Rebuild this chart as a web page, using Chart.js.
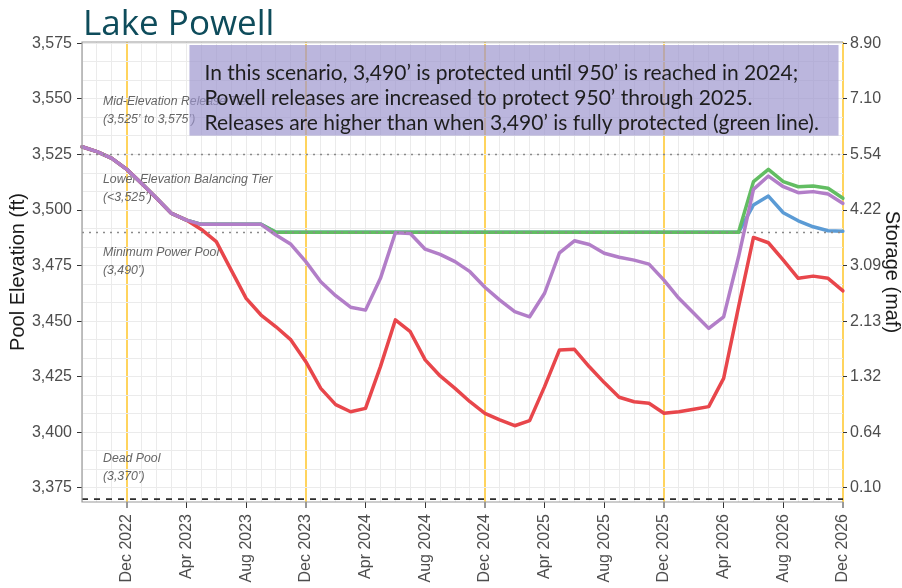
<!DOCTYPE html>
<html>
<head>
<meta charset="utf-8">
<title>Lake Powell</title>
<script src="https://cdn.jsdelivr.net/npm/chart.js@4.4.1/dist/chart.umd.min.js"></script>
<style>
	html, body { margin: 0; padding: 0; background: #fff; }
	#wrap { width: 902px; height: 588px; }
</style>
</head>
<body>
<div id="wrap"><canvas id="powellChart" width="902" height="588"></canvas></div>
<script>
// Months on the x axis (Sep 2022 - Dec 2026)
const months = [
	"Sep 2022", "Oct 2022", "Nov 2022", "Dec 2022",
	"Jan 2023", "Feb 2023", "Mar 2023", "Apr 2023", "May 2023", "Jun 2023", "Jul 2023", "Aug 2023", "Sep 2023", "Oct 2023", "Nov 2023", "Dec 2023",
	"Jan 2024", "Feb 2024", "Mar 2024", "Apr 2024", "May 2024", "Jun 2024", "Jul 2024", "Aug 2024", "Sep 2024", "Oct 2024", "Nov 2024", "Dec 2024",
	"Jan 2025", "Feb 2025", "Mar 2025", "Apr 2025", "May 2025", "Jun 2025", "Jul 2025", "Aug 2025", "Sep 2025", "Oct 2025", "Nov 2025", "Dec 2025",
	"Jan 2026", "Feb 2026", "Mar 2026", "Apr 2026", "May 2026", "Jun 2026", "Jul 2026", "Aug 2026", "Sep 2026", "Oct 2026", "Nov 2026", "Dec 2026"
];

// Tick labels: left axis elevation (ft), right axis storage (maf)
const elevationTicks = [3375, 3400, 3425, 3450, 3475, 3500, 3525, 3550, 3575];
const storageTicks = ["0.10", "0.64", "1.32", "2.13", "3.09", "4.22", "5.54", "7.10", "8.90"];

// Pool elevation (ft) per month
const scenarioElev = [ // purple: 3,490' protected until 950' reached
	3528.5, 3526.3, 3523.3, 3518.3, 3512.0, 3505.3, 3498.5, 3495.5, 3493.6, 3493.6, 3493.6, 3493.6, 3493.6,
	3488.8, 3484.6, 3476.8, 3467.8, 3461.5, 3456.3, 3455.0, 3469.3, 3489.8, 3489.5, 3482.4, 3480.1, 3476.8,
	3472.3, 3465.3, 3459.5, 3454.3, 3452.0, 3462.6, 3480.8, 3486.2, 3484.5, 3480.6, 3478.8, 3477.5, 3475.7,
	3468.5, 3460.3, 3453.6, 3446.8, 3452.0, 3479.0, 3509.3, 3515.3, 3510.5, 3507.8, 3508.3, 3507.2, 3503.0
];
const unprotectedElev = [ // red
	3528.5, 3526.3, 3523.3, 3518.3, 3512.0, 3505.3, 3498.5, 3495.5, 3491.3, 3485.8, 3473.0, 3460.3, 3452.8,
	3447.5, 3441.6, 3431.8, 3419.8, 3412.5, 3409.3, 3410.8, 3429.6, 3450.6, 3445.3, 3432.6, 3425.4, 3419.8,
	3413.8, 3408.6, 3405.6, 3403.0, 3405.3, 3420.6, 3437.1, 3437.4, 3429.5, 3422.4, 3415.8, 3413.8, 3413.1,
	3408.6, 3409.3, 3410.4, 3411.6, 3424.3, 3456.5, 3487.7, 3485.3, 3477.5, 3469.3, 3470.3, 3469.3, 3463.7
];
const protectedElev = [ // green: 3,490' fully protected
	3528.5, 3526.3, 3523.3, 3518.3, 3512.0, 3505.3, 3498.5, 3495.5, 3493.6, 3493.6, 3493.6, 3493.6, 3493.6,
	3490.0, 3490.0, 3490.0, 3490.0, 3490.0, 3490.0, 3490.0, 3490.0, 3490.0, 3490.0, 3490.0, 3490.0, 3490.0,
	3490.0, 3490.0, 3490.0, 3490.0, 3490.0, 3490.0, 3490.0, 3490.0, 3490.0, 3490.0, 3490.0, 3490.0, 3490.0,
	3490.0, 3490.0, 3490.0, 3490.0, 3490.0, 3490.0, 3512.8, 3518.3, 3512.8, 3510.5, 3510.8, 3509.8, 3505.3
];
const blueElev = [ // blue
	3528.5, 3526.3, 3523.3, 3518.3, 3512.0, 3505.3, 3498.5, 3495.5, 3493.6, 3493.6, 3493.6, 3493.6, 3493.6,
	3490.0, 3490.0, 3490.0, 3490.0, 3490.0, 3490.0, 3490.0, 3490.0, 3490.0, 3490.0, 3490.0, 3490.0, 3490.0,
	3490.0, 3490.0, 3490.0, 3490.0, 3490.0, 3490.0, 3490.0, 3490.0, 3490.0, 3490.0, 3490.0, 3490.0, 3490.0,
	3490.0, 3490.0, 3490.0, 3490.0, 3490.0, 3490.0, 3502.3, 3506.3, 3498.8, 3495.2, 3492.5, 3490.7, 3490.5
];

// Reference levels
const tierLines = [3525, 3490];
const deadPool = 3370;
const tierLabels = [
	["Mid-Elevation Release Tier", "(3,525’ to 3,575’)"],
	["Lower Elevation Balancing Tier", "(<3,525’)"],
	["Minimum Power Pool", "(3,490’)"],
	["Dead Pool", "(3,370’)"]
];
const noteLines = [
	"In this scenario, 3,490’ is protected until 950’ is reached in 2024;",
	"Powell releases are increased to protect 950’ through 2025.",
	"Releases are higher than when 3,490’ is fully protected (green line)."
];

const FONT = "'Liberation Sans', Arial, sans-serif";

// Minor grid every 25/3 ft between major ticks
function elevationGrid() {
	const out = [];
	elevationTicks.forEach((v, i) => {
		out.push({ value: v });
		if (i < elevationTicks.length - 1) {
			const step = (elevationTicks[i + 1] - v) / 3;
			out.push({ value: v + step }, { value: v + 2 * step });
		}
	});
	return out;
}

const decorations = {
	id: "decorations",
	beforeDatasetsDraw(chart) {
		const { ctx, chartArea: a, scales: { x, y } } = chart;
		ctx.save();

		// tier labels
		const labelElev = [3548.6, 3513.7, 3481.0, 3388.4];
		ctx.font = "italic 12.3px " + FONT;
		ctx.fillStyle = "#666";
		ctx.textBaseline = "middle";
		tierLabels.forEach((pair, k) => {
			const yy = y.getPixelForValue(labelElev[k]);
			ctx.fillText(pair[0], a.left + 21, yy);
			ctx.fillText(pair[1], a.left + 21, yy + 18);
		});

		// note box
		const bx0 = x.getPixelForValue(7.2);
		const bx1 = x.getPixelForValue(50.7);
		const by0 = a.top + 3;
		const by1 = y.getPixelForValue(3533.5);
		ctx.fillStyle = "rgba(155, 147, 205, 0.68)";
		ctx.fillRect(bx0, by0, bx1 - bx0, by1 - by0);
		ctx.fillStyle = "#1e1e1e";
		ctx.font = "21px Lato, sans-serif";
		ctx.textBaseline = "middle";
		noteLines.forEach((t, k) => ctx.fillText(t, bx0 + 15, by0 + 28 + k * 25));
		ctx.restore();
	},
	afterDatasetsDraw(chart) {
		const { ctx, chartArea: a, scales: { y } } = chart;
		ctx.save();
		// dotted tier lines
		ctx.strokeStyle = "#8a8a8a";
		ctx.lineWidth = 1.3;
		ctx.setLineDash([2, 5]);
		tierLines.forEach((v) => {
			const yy = Math.round(y.getPixelForValue(v)) + 0.5;
			ctx.beginPath();
			ctx.moveTo(a.left, yy);
			ctx.lineTo(a.right, yy);
			ctx.stroke();
		});
		// dead pool
		ctx.strokeStyle = "#1a1a1a";
		ctx.lineWidth = 1.6;
		ctx.setLineDash([6, 6]);
		const yd = y.getPixelForValue(deadPool);
		ctx.beginPath();
		ctx.moveTo(a.left, yd);
		ctx.lineTo(a.right, yd);
		ctx.stroke();
		// panel border (right edge is the yellow Dec 2026 line)
		ctx.setLineDash([]);
		ctx.strokeStyle = "#999";
		ctx.lineWidth = 1.2;
		ctx.beginPath();
		ctx.moveTo(a.right, a.top);
		ctx.lineTo(a.left, a.top);
		ctx.lineTo(a.left, a.bottom);
		ctx.lineTo(a.right, a.bottom);
		ctx.stroke();
		ctx.restore();
	},
	afterDraw(chart) {
		const { ctx, chartArea: a } = chart;
		ctx.save();
		ctx.font = "35px 'Open Sans', sans-serif";
		ctx.fillStyle = "#0e4c5b";
		ctx.textBaseline = "alphabetic";
		ctx.fillText("Lake Powell", a.left + 1, 35);
		ctx.restore();
	}
};

const tickFont = { family: FONT, size: 16 };

new Chart(document.getElementById("powellChart"), {
	type: "line",
	data: {
		labels: months,
		datasets: [
			{ label: "Scenario", data: scenarioElev, borderColor: "#b27ec8" },
			{ label: "Unprotected", data: unprotectedElev, borderColor: "#e8464b" },
			{ label: "3,490' protected", data: protectedElev, borderColor: "#62bd62" },
			{ label: "Blue", data: blueElev, borderColor: "#5b9bd5" }
		]
	},
	options: {
		responsive: false,
		animation: false,
		layout: { padding: { top: 42, left: 0, right: 0, bottom: 0 } },
		plugins: {
			legend: { display: false },
			tooltip: { enabled: false }
		},
		elements: {
			point: { radius: 0 },
			line: { borderWidth: 3.5, tension: 0, borderJoinStyle: "round", borderCapStyle: "round" }
		},
		scales: {
			x: {
				type: "category",
				offset: false,
				border: { display: false },
				grid: {
					color: (c) => (c.index % 12 === 3 ? "#ffd45e" : "#ebebeb"),
					lineWidth: (c) => (c.index % 12 === 3 ? 2 : 1),
					tickColor: (c) => ((c.index - 3) % 4 === 0 ? "#333" : "rgba(0,0,0,0)"),
					tickWidth: 1,
					tickLength: 6
				},
				ticks: {
					autoSkip: false,
					maxRotation: 90,
					minRotation: 90,
					padding: 6,
					color: "#4d4d4d",
					font: tickFont,
					callback: function (v, i) {
						return (i - 3) % 4 === 0 ? this.getLabelForValue(v) : "";
					}
				},
				afterFit: (s) => { s.height = 86; }
			},
			y: {
				position: "left",
				min: 3368.7,
				max: 3575.6,
				border: { display: false },
				afterBuildTicks: (s) => { s.ticks = elevationGrid(); },
				grid: {
					color: "#ebebeb",
					tickColor: (c) => (elevationTicks.includes(c.tick.value) ? "#333" : "rgba(0,0,0,0)"),
					tickLength: 5
				},
				ticks: {
					autoSkip: false,
					padding: 5,
					color: "#4d4d4d",
					font: tickFont,
					callback: (v) => (elevationTicks.includes(v) ? v.toLocaleString("en-US") : "")
				},
				title: {
					display: true,
					text: "Pool Elevation (ft)",
					color: "#1a1a1a",
					font: { family: FONT, size: 20, lineHeight: 1 },
					padding: { top: 8, bottom: 0 }
				},
				afterFit: (s) => { s.width = 82; }
			},
			y2: {
				position: "right",
				min: 3368.7,
				max: 3575.6,
				border: { display: false },
				afterBuildTicks: (s) => { s.ticks = elevationTicks.map((v) => ({ value: v })); },
				grid: { drawOnChartArea: false, tickColor: "#333", tickLength: 4 },
				ticks: {
					autoSkip: false,
					padding: 3,
					color: "#4d4d4d",
					font: tickFont,
					callback: (v) => storageTicks[elevationTicks.indexOf(v)]
				},
				title: {
					display: true,
					text: "Storage (maf)",
					color: "#1a1a1a",
					font: { family: FONT, size: 20, lineHeight: 1 },
					padding: { top: 0, bottom: 0 }
				},
				afterFit: (s) => { s.width = 59; }
			}
		}
	},
	plugins: [decorations]
});
</script>
</body>
</html>
